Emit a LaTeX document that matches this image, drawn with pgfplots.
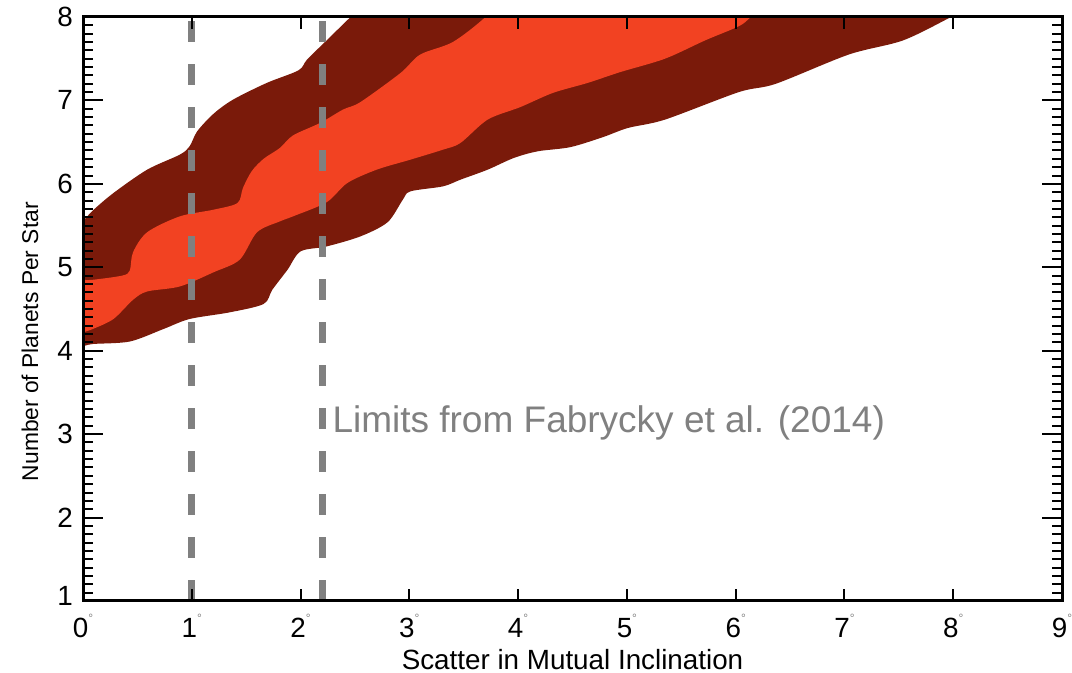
\documentclass[border=0pt]{standalone}
\usepackage{pgfplots}
\pgfplotsset{compat=1.18}
\usepackage{fontspec}
\setmainfont{Liberation Sans}

\definecolor{banddark}{RGB}{122,26,10}
\definecolor{bandlight}{RGB}{242,66,34}
\definecolor{limgray}{RGB}{128,128,128}

\begin{document}
\begin{tikzpicture}
\begin{axis}[
  name=ax,
  scale only axis,
  width=489.5pt, height=292pt,
  xmin=0, xmax=9, ymin=1, ymax=8,
  xtick={0,...,9}, ytick={1,...,8},
  minor y tick num=9,
  axis on top,
  axis line style={line width=1.5pt, black},
  tick style={line width=1pt, black},
  major tick length=10pt,
  minor tick length=5pt,
  xtick style={/pgfplots/major tick length=6pt},
  font=\fontsize{13.9}{16}\selectfont,
  tick label style={font=\fontsize{13.9}{16}\selectfont},
  xticklabel style={yshift=-3pt},
  yticklabel style={xshift=-1.5pt},
  /pgf/number format/assume math mode=true,
  xticklabel={\pgfmathprintnumber{\tick}\raisebox{0.55em}{\fontsize{6}{6}\selectfont\color{gray}°}},
  yticklabel={\ifnum\ticknum=0 \raisebox{5pt}{1}\else\pgfmathprintnumber{\tick}\fi},
  xlabel={Scatter in Mutual Inclination},
  ylabel={Number of Planets Per Star},
  xlabel style={at={(axis description cs:0.5,0)}, anchor=center, yshift=-29.5pt},
  ylabel style={at={(axis description cs:-0.0541,0.444)}, anchor=center,
    font=\fontsize{11.4}{13}\selectfont},
]
% outer (dark) band
\addplot[draw=none, fill=banddark, smooth, tension=0.5] coordinates {
  (0,5.55) (0.09,5.68) (0.28,5.89) (0.59,6.17) (0.89,6.35) (0.98,6.45)
  (1.05,6.63) (1.2,6.84) (1.38,7.01) (1.69,7.21) (1.98,7.36) (2.06,7.49)
  (2.24,7.72) (2.46,8.0) (2.7,8.3) (8.3,8.3)
  (8.15,8.12) (7.98,8.0) (7.54,7.72) (7.04,7.55) (6.37,7.2) (6.03,7.1)
  (5.35,6.77) (5.01,6.67) (4.78,6.56) (4.48,6.44) (4.18,6.39) (3.96,6.31)
  (3.72,6.17) (3.47,6.05) (3.31,5.97) (3.01,5.91) (2.94,5.81) (2.8,5.54)
  (2.55,5.37) (2.24,5.25) (2.0,5.19) (1.88,4.97) (1.74,4.73) (1.66,4.56)
  (1.35,4.46) (0.98,4.38) (0.74,4.26) (0.43,4.11) (0.09,4.08) (0,4.05)
} -- cycle;
% inner (bright) band
\addplot[draw=none, fill=bandlight, smooth, tension=0.5] coordinates {
  (0,4.85) (0.09,4.85) (0.36,4.9) (0.43,4.96) (0.46,5.18) (0.59,5.42)
  (0.89,5.61) (1.2,5.69) (1.42,5.77) (1.47,5.95) (1.55,6.15) (1.66,6.3)
  (1.81,6.43) (1.93,6.58) (2.18,6.73) (2.39,6.89) (2.55,6.98) (2.92,7.33)
  (3.1,7.55) (3.4,7.7) (3.7,8.0) (3.9,8.3) (6.4,8.3)
  (6.14,8.0) (6.03,7.89) (5.72,7.72) (5.35,7.5) (4.94,7.34) (4.64,7.21)
  (4.32,7.09) (4.02,6.92) (3.72,6.77) (3.47,6.49) (3.31,6.41) (3.01,6.29)
  (2.7,6.17) (2.43,6.01) (2.24,5.78) (1.93,5.61) (1.81,5.55) (1.6,5.42)
  (1.44,5.09) (1.2,4.94) (0.89,4.77) (0.59,4.71) (0.46,4.61) (0.28,4.38)
  (0.09,4.26) (0,4.22)
} -- cycle;
% inclination limits
\addplot[limgray, line width=3.5pt, dash pattern=on 10.5pt off 11pt] coordinates {(1,1) (1,8)};
\addplot[limgray, line width=3.5pt, dash pattern=on 10.5pt off 11pt] coordinates {(2.2,1) (2.2,8)};
\node[anchor=base west, inner sep=0pt, text=limgray, font=\fontsize{18.5}{22}\selectfont]
  at (axis cs:2.29,3.02) {Limits from Fabrycky et al. (2014)};
\end{axis}
\pgfresetboundingbox
\path ([shift={(-41.5pt,-36pt)}]ax.south west) rectangle ([shift={(5pt,8.5pt)}]ax.north east);
\end{tikzpicture}
\end{document}
